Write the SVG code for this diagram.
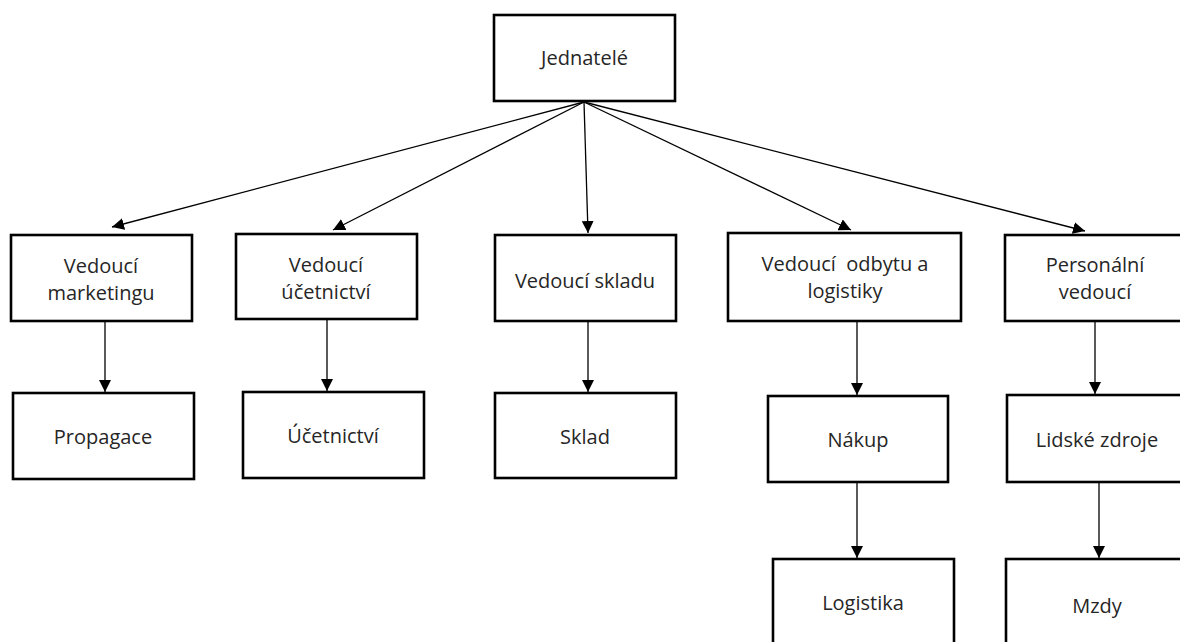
<svg xmlns="http://www.w3.org/2000/svg" width="1180" height="642" viewBox="0 0 1180 642">
  <style>
    .box { fill: #ffffff; stroke: #000000; stroke-width: 2.6; }
    .lbl { font-family: "Open Sans", "Liberation Sans", sans-serif; font-size: 20px; fill: #262626; text-anchor: middle; white-space: pre; }
    .con { stroke: #000000; stroke-width: 1.3; fill: none; marker-end: url(#tip); }
  </style>
  <defs>
    <marker id="tip" markerUnits="userSpaceOnUse" markerWidth="12" markerHeight="12" viewBox="0 0 12 12" refX="12" refY="6" orient="auto">
      <path d="M0,0 L12,6 L0,12 Z" fill="#000000"/>
    </marker>
  </defs>
  <rect width="1180" height="642" fill="#ffffff"/>

  <g id="connectors">
    <line class="con" x1="584" y1="102" x2="112" y2="227"/>
    <line class="con" x1="584" y1="102" x2="333" y2="230"/>
    <line class="con" x1="584" y1="102" x2="588" y2="233"/>
    <line class="con" x1="584" y1="102" x2="851" y2="230"/>
    <line class="con" x1="584" y1="102" x2="1085" y2="231"/>
    <line class="con" x1="105" y1="321" x2="105" y2="392"/>
    <line class="con" x1="327" y1="319" x2="327" y2="391"/>
    <line class="con" x1="588" y1="321" x2="588" y2="392"/>
    <line class="con" x1="857" y1="322" x2="857" y2="395"/>
    <line class="con" x1="1095" y1="321" x2="1095" y2="394"/>
    <line class="con" x1="857" y1="482" x2="857" y2="558"/>
    <line class="con" x1="1099" y1="482" x2="1099" y2="558"/>
  </g>

  <g id="jednatele">
    <rect class="box" x="494" y="15" width="181" height="86"/>
    <text class="lbl" x="584.5" y="65">Jednatelé</text>
  </g>

  <g id="vedouci-marketingu">
    <rect class="box" x="11" y="235" width="181" height="86"/>
    <text class="lbl" x="101" y="273">Vedoucí</text>
    <text class="lbl" x="101" y="300">marketingu</text>
  </g>
  <g id="propagace">
    <rect class="box" x="13" y="393" width="181" height="86"/>
    <text class="lbl" x="103" y="444">Propagace</text>
  </g>

  <g id="vedouci-ucetnictvi">
    <rect class="box" x="236" y="234" width="181" height="85"/>
    <text class="lbl" x="326" y="272">Vedoucí</text>
    <text class="lbl" x="326" y="299">účetnictví</text>
  </g>
  <g id="ucetnictvi">
    <rect class="box" x="243" y="392" width="181" height="86"/>
    <text class="lbl" x="333" y="443">Účetnictví</text>
  </g>

  <g id="vedouci-skladu">
    <rect class="box" x="495" y="235" width="181" height="86"/>
    <text class="lbl" x="585" y="288">Vedoucí skladu</text>
  </g>
  <g id="sklad">
    <rect class="box" x="495" y="393" width="181" height="85"/>
    <text class="lbl" x="585" y="444">Sklad</text>
  </g>

  <g id="vedouci-odbytu">
    <rect class="box" x="728" y="233" width="233" height="88"/>
    <text class="lbl" x="845" y="271">Vedoucí  odbytu a</text>
    <text class="lbl" x="845" y="298">logistiky</text>
  </g>
  <g id="nakup">
    <rect class="box" x="768" y="396" width="180" height="86"/>
    <text class="lbl" x="858" y="447">Nákup</text>
  </g>
  <g id="logistika">
    <rect class="box" x="773" y="559" width="181" height="100"/>
    <text class="lbl" x="863" y="610">Logistika</text>
  </g>

  <g id="personalni-vedouci">
    <rect class="box" x="1005" y="235" width="182" height="86"/>
    <text class="lbl" x="1095" y="272">Personální</text>
    <text class="lbl" x="1095" y="299">vedoucí</text>
  </g>
  <g id="lidske-zdroje">
    <rect class="box" x="1007" y="395" width="182" height="87"/>
    <text class="lbl" x="1097" y="447">Lidské zdroje</text>
  </g>
  <g id="mzdy">
    <rect class="box" x="1006" y="559" width="182" height="100"/>
    <text class="lbl" x="1097" y="613">Mzdy</text>
  </g>
</svg>
